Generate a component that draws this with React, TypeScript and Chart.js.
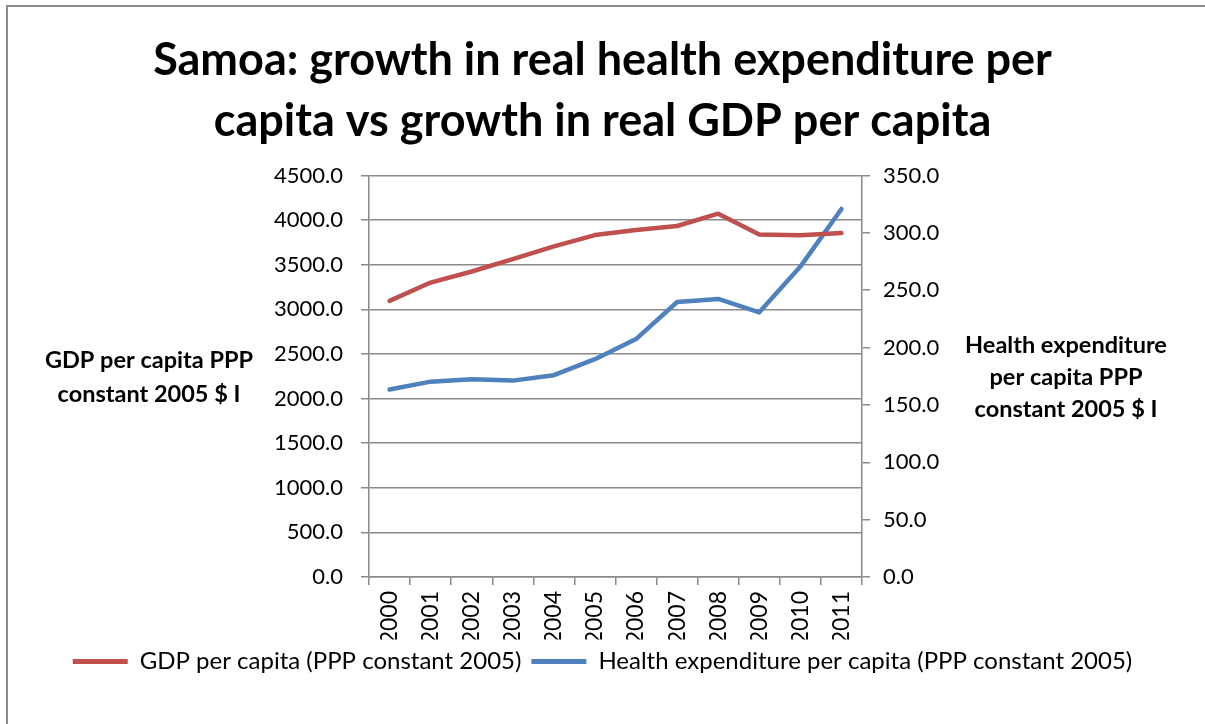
import React, { useEffect, useRef } from "react";
import { Chart, registerables } from "chart.js";

Chart.register(...registerables);

const years = ["2000", "2001", "2002", "2003", "2004", "2005", "2006", "2007", "2008", "2009", "2010", "2011"];
const gdpPerCapita = [3095, 3300, 3424, 3562, 3705, 3832, 3889, 3934, 4072, 3840, 3829, 3855];
const healthPerCapita = [163.4, 170.3, 172.4, 171.2, 175.9, 189.9, 207.4, 239.7, 242.4, 230.7, 270.6, 320.8];
const titleLines = ["Samoa: growth in real health expenditure per", "capita vs growth in real GDP per capita"];
const leftAxisTitle = ["GDP per capita PPP", "constant 2005 $ I"];
const rightAxisTitle = ["Health expenditure", "per capita PPP", "constant 2005 $ I"];
const seriesNames = ["GDP per capita (PPP constant 2005)", "Health expenditure per capita (PPP constant 2005)"];

const RED = "#C0504D";
const BLUE = "#4F81BD";
const GRID = "#8a8a8a";
const FONT = "Lato, 'Open Sans', sans-serif";

const decorPlugin = {
  id: "decor",
  beforeDraw(chart: any) {
    const { ctx, width, height } = chart;
    ctx.save();
    ctx.fillStyle = "#ffffff";
    ctx.fillRect(0, 0, width, height);
    ctx.strokeStyle = "#8c8c8c";
    ctx.lineWidth = 2;
    ctx.strokeRect(7, 6, width + 10, height + 10);
    ctx.restore();
  },
  afterDraw(chart: any) {
    const { ctx } = chart;
    ctx.save();
    ctx.fillStyle = "#000000";
    ctx.font = `bold 23.5px ${FONT}`;
    ctx.textAlign = "center";
    ctx.textBaseline = "middle";
    const leftY = [360, 394];
    leftAxisTitle.forEach((t, i) => ctx.fillText(t, 149, leftY[i]));
    const rightY = [345, 377, 409];
    rightAxisTitle.forEach((t, i) => ctx.fillText(t, 1066, rightY[i]));
    ctx.restore();
  },
};

export default function App() {
  const canvasRef = useRef<HTMLCanvasElement | null>(null);

  useEffect(() => {
    document.body.style.margin = "0";
    const canvas = canvasRef.current;
    if (!canvas) return;
    const chart = new Chart(canvas, {
      type: "line",
      data: {
        labels: years,
        datasets: [
          {
            label: seriesNames[0],
            data: gdpPerCapita,
            borderColor: RED,
            backgroundColor: RED,
            borderWidth: 4.5,
            pointRadius: 0,
            tension: 0,
            borderCapStyle: "round",
            borderJoinStyle: "round",
            yAxisID: "y",
          },
          {
            label: seriesNames[1],
            data: healthPerCapita,
            borderColor: BLUE,
            backgroundColor: BLUE,
            borderWidth: 4.5,
            pointRadius: 0,
            tension: 0,
            borderCapStyle: "round",
            borderJoinStyle: "round",
            yAxisID: "y1",
          },
        ],
      },
      options: {
        responsive: false,
        animation: false,
        layout: { padding: { left: 0, right: 0, top: 0, bottom: 40.5 } },
        plugins: {
          title: {
            display: true,
            text: titleLines,
            color: "#000000",
            font: { family: FONT, size: 45, weight: "bold", lineHeight: 1.35 },
            padding: { top: 30, bottom: 24 },
          },
          legend: {
            display: true,
            position: "bottom",
            labels: {
              color: "#000000",
              font: { family: FONT, size: 24 },
              boxWidth: 55,
              boxHeight: 5,
              padding: 10,
              generateLabels: (c: any) =>
                Chart.defaults.plugins.legend.labels.generateLabels(c).map((l: any) => ({
                  ...l,
                  lineWidth: 0,
                  fillStyle: l.strokeStyle,
                })),
            },
          },
          tooltip: { enabled: false },
        },
        scales: {
          x: {
            type: "category",
            offset: true,
            grid: {
              offset: true,
              drawOnChartArea: false,
              drawTicks: true,
              tickLength: 8,
              color: GRID,
              lineWidth: 1.5,
            },
            border: { display: true, color: GRID, width: 1.5 },
            ticks: {
              color: "#000000",
              font: { family: FONT, size: 23 },
              minRotation: 90,
              maxRotation: 90,
              padding: 6,
              autoSkip: false,
            },
            afterFit: (s: any) => {
              s.height = 62.5;
            },
          },
          y: {
            position: "left",
            min: 0,
            max: 4500,
            ticks: {
              stepSize: 500,
              color: "#000000",
              font: { family: FONT, size: 22 },
              padding: 18,
              callback: (v: any) => Number(v).toFixed(1),
            },
            grid: { color: GRID, lineWidth: 1.5, tickLength: 8, drawTicks: true },
            border: { display: true, color: GRID, width: 1.5 },
            afterFit: (s: any) => {
              s.width = 369;
            },
          },
          y1: {
            position: "right",
            min: 0,
            max: 350,
            ticks: {
              stepSize: 50,
              color: "#000000",
              font: { family: FONT, size: 22 },
              padding: 13,
              callback: (v: any) => Number(v).toFixed(1),
            },
            grid: { drawOnChartArea: false, color: GRID, lineWidth: 1.5, tickLength: 8, drawTicks: true },
            border: { display: true, color: GRID, width: 1.5 },
            afterFit: (s: any) => {
              s.width = 343;
            },
          },
        },
      },
      plugins: [decorPlugin],
    } as any);
    return () => chart.destroy();
  }, []);

  return (
    <div style={{ width: 1205, height: 724 }}>
      <canvas ref={canvasRef} width={1205} height={724} style={{ display: "block" }} />
    </div>
  );
}
